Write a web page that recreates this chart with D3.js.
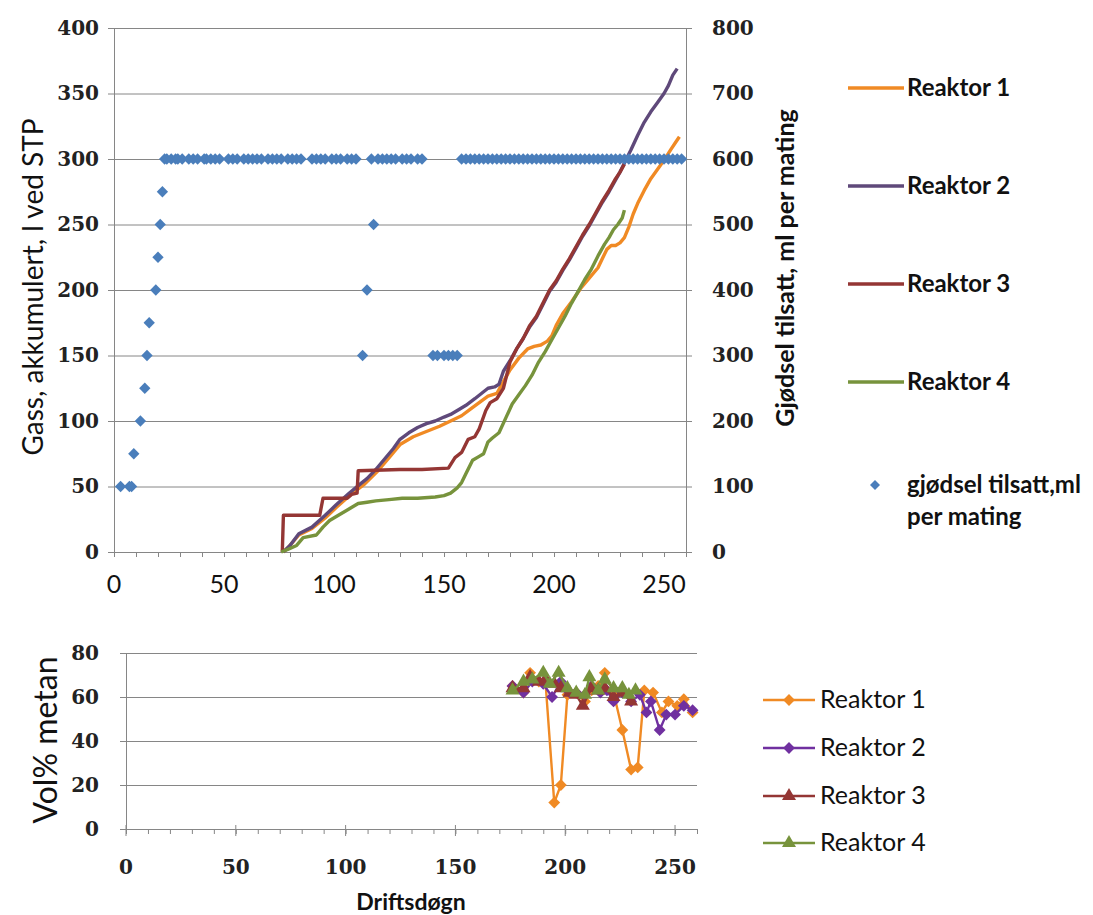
<!DOCTYPE html>
<html>
<head>
<meta charset="utf-8">
<script src="https://cdn.jsdelivr.net/npm/d3@7"></script>
<style>
body { margin: 0; background: #fff; }
svg { font-family: Lato, "Open Sans", sans-serif; fill: #111; }
.num { font-family: "DejaVu Serif", serif; font-size: 20px; font-weight: bold; fill: #222; }
</style>
</head>
<body>
<svg width="1093" height="915"></svg>
<script>
var names = ["Reaktor 1", "Reaktor 2", "Reaktor 3", "Reaktor 4"];
var lineColors = ["#F08A24", "#5F497A", "#943634", "#77933C"];
var markColors = ["#F08A24", "#7030A0", "#943634", "#77933C"];

// akkumulert gass, [driftsdøgn, liter]
var r1Gas = [[77,0],[80,5],[84,13],[90,18],[96,26],[101,34],[107,43],[114,52],[120,62],[126,74],[130,82],[136,88],[142,92],[148,96],[153,100],[158,104],[162,109],[166,114],[170,119],[174,121],[177,130],[180,139],[184,148],[188,155],[191,157],[194,158],[197,161],[199,165],[201,173],[204,182],[208,191],[212,201],[216,209],[220,217],[222,224],[224,231],[226,234],[228,234],[230,236],[232,240],[234,248],[236,258],[238,266],[241,276],[244,285],[247,292],[250,299],[253,307],[255,312],[257,317]];
var r2Gas = [[77,0],[80,5],[84,14],[90,19],[96,28],[101,36],[107,45],[112,52],[115,56],[119,63],[123,71],[127,79],[130,86],[134,91],[138,95],[142,98],[146,100],[150,103],[153,105],[157,109],[160,112],[164,117],[167,121],[170,125],[173,126],[175,128],[177,138],[180,146],[183,155],[186,163],[189,172],[192,179],[195,189],[198,199],[201,206],[204,215],[207,223],[210,232],[213,241],[216,249],[219,258],[222,267],[225,275],[228,284],[230,290],[232,297],[235,307],[238,318],[241,328],[244,336],[247,343],[250,350],[252,356],[254,364],[256,369]];
var r3Gas = [[76.5,0],[77,28],[93.5,28],[95,41],[106,41],[108,44],[110.5,45],[111,62],[130,63],[140,63],[152,64],[155,72],[158,76],[161,86],[164,88],[166,94],[169,108],[171,114],[174,117],[177,125],[180,145],[183,155],[186,163],[189,173],[192,180],[195,190],[198,200],[201,207],[204,216],[207,224],[210,233],[213,242],[216,250],[219,259],[222,268],[225,276],[228,285],[230,290],[232,296]];
var r4Gas = [[76,0],[79,2],[83,5],[86,11],[92,13],[95,19],[98,24],[102,28],[107,33],[111,37],[115,38],[119,39],[125,40],[131,41],[138,41],[146,42],[150,43],[153,45],[156,49],[158,53],[160,60],[163,70],[166,73],[168,75],[170,84],[172,87],[175,91],[178,102],[181,113],[184,120],[187,127],[190,135],[193,145],[196,153],[199,162],[202,171],[205,180],[208,190],[211,199],[214,208],[217,216],[220,226],[223,235],[225,240],[227,246],[229,250],[231,255],[232,261]];

// gjødsel tilsatt, ml per mating
var gjDays = [3,7,8,9,12,14,15,16,19,20,21,22,
  23,24,26,28,29,31,34,36,38,41,42,44,46,48,52,54,56,59,61,63,65,67,70,72,74,76,79,81,83,85,
  90,92,94,96,99,101,103,106,108,110,113,115,118,
  117,120,122,124,126,128,131,133,135,138,140,
  145,147,150,152,154,156,
  158,160,162,164,166,168,170,172,174,176,178,180,182,184,186,188,190,192,194,196,198,200,202,204,206,208,210,212,214,216,218,220,222,224,226,228,230,232,234,236,238,240,242,244,246,248,250,252,254,256,258];
var gjMl = [100,100,100,150,200,250,300,350,400,450,500,550,
  600,600,600,600,600,600,600,600,600,600,600,600,600,600,600,600,600,600,600,600,600,600,600,600,600,600,600,600,600,600,
  600,600,600,600,600,600,600,600,600,600,300,400,500,
  600,600,600,600,600,600,600,600,600,600,600,
  300,300,300,300,300,300,
  600,600,600,600,600,600,600,600,600,600,600,600,600,600,600,600,600,600,600,600,600,600,600,600,600,600,600,600,600,600,600,600,600,600,600,600,600,600,600,600,600,600,600,600,600,600,600,600,600,600,600];

// vol% metan, [driftsdøgn, %]
var r1Metan = [[176,65],[181,62],[184,71],[188,67],[191,67],[195,12],[198,20],[201,61],[205,62],[209,58],[212,63],[215,65],[218,71],[222,62],[226,45],[230,27],[233,28],[236,63],[240,62],[244,53],[247,58],[251,56],[254,59],[258,53]];
var r2Metan = [[176,65],[181,62],[185,67],[190,66],[194,60],[198,67],[202,62],[205,62],[209,61],[212,65],[216,62],[219,63],[222,58],[226,62],[230,58],[234,61],[237,53],[239,58],[243,45],[246,52],[250,52],[254,56],[258,54]];
var r3Metan = [[176,64],[181,64],[184,69],[188,67],[191,68],[195,66],[198,64],[202,62],[205,61],[208,56],[212,64],[215,63],[218,64],[222,60],[226,62],[230,58]];
var r4Metan = [[176,63],[181,67],[185,68],[190,71],[193,66],[197,71],[201,64],[205,62],[209,61],[211,69],[215,63],[218,68],[222,64],[226,64],[229,61],[232,63]];

var xTicks = [0, 50, 100, 150, 200, 250];
var gasTicks = [0, 50, 100, 150, 200, 250, 300, 350, 400];
var mlTicks = [0, 100, 200, 300, 400, 500, 600, 700, 800];
var metanTicks = [0, 20, 40, 60, 80];

var gasSeries = [r1Gas, r2Gas, r3Gas, r4Gas];
var metanSeries = [r1Metan, r2Metan, r3Metan, r4Metan];
var metanShapes = ["diamond", "diamond", "triangle", "triangle"];

var svg = d3.select("svg"),
    gridColor = "#868686";

var diamond = {
  draw: function(ctx, size) {
    var r = Math.sqrt(size / 2);
    ctx.moveTo(0, -r); ctx.lineTo(r, 0); ctx.lineTo(0, r); ctx.lineTo(-r, 0); ctx.closePath();
  }
};

function markSymbol(i) {
  return metanShapes[i] == "diamond"
    ? d3.symbol().type(diamond).size(70)
    : d3.symbol().type(d3.symbolTriangle).size(85);
}

function styleAxis(g) {
  g.attr("font-family", null).attr("font-size", null);
  g.selectAll("path, line").attr("stroke", gridColor);
  g.selectAll("text").attr("class", "num").attr("fill", null);
}

// ---- top chart
var x1 = d3.scaleLinear().domain([0, 260]).range([114, 686]),
    yGas = d3.scaleLinear().domain([0, 400]).range([552, 28]),
    yMl = d3.scaleLinear().domain([0, 800]).range([552, 28]);

var topG = svg.append("g");

topG.append("g")
    .attr("transform", "translate(114,0)")
    .call(d3.axisLeft(yGas).tickValues(gasTicks).tickSize(-572).tickFormat(""))
    .call(function(g) { g.select(".domain").remove(); })
    .selectAll("line").attr("stroke", gridColor);

topG.append("g")
    .attr("transform", "translate(114,0)")
    .call(d3.axisLeft(yGas).tickValues(gasTicks).tickSize(6).tickPadding(9))
    .call(styleAxis);

topG.append("g")
    .attr("transform", "translate(686,0)")
    .call(d3.axisRight(yMl).tickValues(mlTicks).tickSize(6).tickPadding(20))
    .call(styleAxis);

topG.append("g")
    .attr("transform", "translate(0,552)")
    .call(d3.axisBottom(x1).tickValues(d3.range(0, 261, 10)).tickSize(5).tickFormat(""))
    .selectAll("path, line").attr("stroke", gridColor);

topG.selectAll(".xlab")
    .data(xTicks)
  .enter().append("text")
    .attr("x", function(d) { return x1(d); })
    .attr("y", 593)
    .attr("text-anchor", "middle")
    .attr("font-size", 25)
    .text(function(d) { return d; });

var gasLine = d3.line()
    .x(function(d) { return x1(d[0]); })
    .y(function(d) { return yGas(d[1]); });

topG.selectAll(".gas")
    .data(gasSeries)
  .enter().append("path")
    .attr("d", gasLine)
    .attr("fill", "none")
    .attr("stroke", function(d, i) { return lineColors[i]; })
    .attr("stroke-width", 3.4)
    .attr("stroke-linejoin", "round");

topG.selectAll(".gj")
    .data(gjDays)
  .enter().append("path")
    .attr("transform", function(d, i) { return "translate(" + x1(d) + "," + yMl(gjMl[i]) + ")"; })
    .attr("d", d3.symbol().type(diamond).size(64))
    .attr("fill", "#4A7EBB");

topG.append("text")
    .attr("transform", "translate(43,287) rotate(-90)")
    .attr("text-anchor", "middle")
    .attr("font-size", 28)
    .text("Gass, akkumulert, l ved STP");

topG.append("text")
    .attr("transform", "translate(794,268) rotate(-90)")
    .attr("text-anchor", "middle")
    .attr("font-size", 25)
    .attr("font-weight", "bold")
    .text("Gjødsel tilsatt, ml per mating");

// top legend
var leg1 = topG.selectAll(".leg1")
    .data(names)
  .enter().append("g")
    .attr("transform", function(d, i) { return "translate(848," + (88 + i * 98) + ")"; });
leg1.append("line")
    .attr("x2", 56)
    .attr("stroke", function(d, i) { return lineColors[i]; })
    .attr("stroke-width", 3.4);
leg1.append("text")
    .attr("x", 59).attr("y", 8)
    .attr("font-size", 24).attr("font-weight", "bold")
    .text(function(d) { return d; });

topG.append("path")
    .attr("transform", "translate(875,485)")
    .attr("d", d3.symbol().type(diamond).size(50))
    .attr("fill", "#4A7EBB");
topG.append("text")
    .attr("x", 907).attr("y", 493)
    .attr("font-size", 24).attr("font-weight", "bold")
    .text("gjødsel tilsatt,ml");
topG.append("text")
    .attr("x", 907).attr("y", 525)
    .attr("font-size", 24).attr("font-weight", "bold")
    .text("per mating");

// ---- bottom chart
var x2 = d3.scaleLinear().domain([0, 260]).range([126, 697]),
    yMet = d3.scaleLinear().domain([0, 80]).range([829, 653]);

var botG = svg.append("g");

botG.append("g")
    .attr("transform", "translate(126,0)")
    .call(d3.axisLeft(yMet).tickValues(metanTicks.slice(1)).tickSize(-571).tickFormat(""))
    .call(function(g) { g.select(".domain").remove(); })
    .selectAll("line").attr("stroke", gridColor);

botG.append("g")
    .attr("transform", "translate(126,0)")
    .call(d3.axisLeft(yMet).tickValues(metanTicks).tickSize(6).tickPadding(21))
    .call(styleAxis);

botG.append("g")
    .attr("transform", "translate(0,829)")
    .call(d3.axisBottom(x2).tickValues(d3.range(0, 261, 10)).tickSize(5).tickFormat(""))
    .selectAll("path, line").attr("stroke", gridColor);

// longer major ticks crossing the axis
botG.selectAll(".major")
    .data(xTicks)
  .enter().append("line")
    .attr("x1", function(d) { return x2(d); })
    .attr("x2", function(d) { return x2(d); })
    .attr("y1", 825)
    .attr("y2", 836)
    .attr("stroke", gridColor);

botG.selectAll(".xlab2")
    .data(xTicks)
  .enter().append("text")
    .attr("class", "num")
    .attr("x", function(d) { return x2(d); })
    .attr("y", 874)
    .attr("text-anchor", "middle")
    .text(function(d) { return d; });

var metLine = d3.line()
    .x(function(d) { return x2(d[0]); })
    .y(function(d) { return yMet(d[1]); });

metanSeries.forEach(function(s, i) {
  var g = botG.append("g");
  g.append("path")
      .attr("d", metLine(s))
      .attr("fill", "none")
      .attr("stroke", markColors[i])
      .attr("stroke-width", 2.4);
  g.selectAll("path.m")
      .data(s)
    .enter().append("path")
      .attr("class", "m")
      .attr("transform", function(d) { return "translate(" + x2(d[0]) + "," + yMet(d[1]) + ")"; })
      .attr("d", markSymbol(i))
      .attr("fill", markColors[i]);
});

botG.append("text")
    .attr("transform", "translate(57,740) rotate(-90)")
    .attr("text-anchor", "middle")
    .attr("font-size", 32)
    .text("Vol% metan");

botG.append("text")
    .attr("x", 411).attr("y", 910)
    .attr("text-anchor", "middle")
    .attr("font-size", 23).attr("font-weight", "bold")
    .text("Driftsdøgn");

var leg2 = botG.selectAll(".leg2")
    .data(names)
  .enter().append("g")
    .attr("transform", function(d, i) { return "translate(763," + [700, 748, 796, 843][i] + ")"; });
leg2.append("line")
    .attr("x2", 52)
    .attr("stroke", function(d, i) { return markColors[i]; })
    .attr("stroke-width", 2.4);
leg2.append("path")
    .attr("transform", "translate(26,0)")
    .attr("d", function(d, i) { return markSymbol(i)(); })
    .attr("fill", function(d, i) { return markColors[i]; });
leg2.append("text")
    .attr("x", 57).attr("y", 8)
    .attr("font-size", 25)
    .text(function(d) { return d; });
</script>
</body>
</html>
